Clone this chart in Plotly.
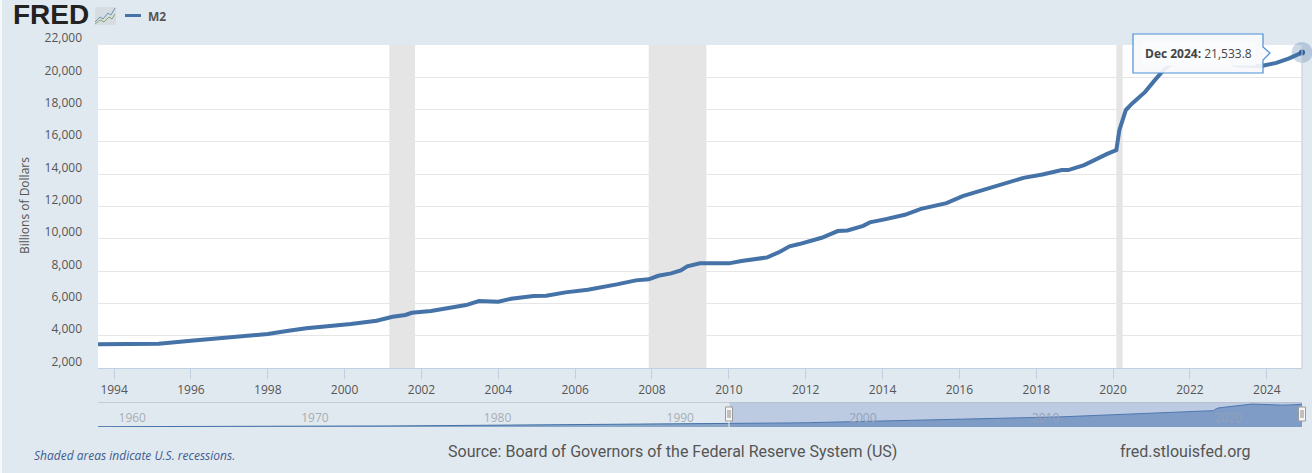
import plotly.graph_objects as go

W, H = 1312, 473

history_dates = ["1959-01", "1962-01", "1965-01", "1968-01", "1970-01", "1972-01", "1975-01", "1978-01",
                 "1980-01", "1983-01", "1985-01", "1988-01", "1990-01", "1992-01"]
history_values = [290, 345, 460, 550, 600, 710, 1000, 1350, 1550, 2100, 2400, 2950, 3200, 3400]

dates = ["1993-08", "1995-03", "1996-01", "1996-11", "1998-01", "1998-07", "1999-01", "2000-03", "2000-11",
         "2001-04", "2001-08", "2001-10", "2002-04", "2003-03", "2003-07", "2004-01", "2004-05", "2004-12",
         "2005-04", "2005-10", "2006-05", "2007-02", "2007-08", "2007-12", "2008-03", "2008-07", "2008-10",
         "2008-12", "2009-04", "2009-10", "2010-01", "2010-05", "2011-01", "2011-05", "2011-07", "2011-08",
         "2011-11", "2012-06", "2012-11", "2013-02", "2013-07", "2013-09", "2014-02", "2014-08", "2015-01",
         "2015-09", "2016-02", "2016-10", "2017-01", "2017-07", "2017-09", "2018-03", "2018-09", "2018-11",
         "2019-04", "2019-11", "2020-02", "2020-03", "2020-05", "2020-07", "2020-11", "2021-02", "2021-05",
         "2021-08", "2021-12", "2022-03", "2022-08", "2022-12", "2023-03", "2023-11", "2024-04", "2024-08",
         "2024-12"]
m2_values = [3484, 3520, 3706, 3855, 4120, 4306, 4473, 4738, 4943, 5190, 5300, 5437, 5542, 5913, 6160, 6118,
             6303, 6470, 6490, 6698, 6860, 7192, 7440, 7502, 7725, 7873, 8058, 8306, 8491, 8491, 8491, 8634,
             8861, 9210, 9400, 9543, 9685, 10075, 10488, 10530, 10815, 11025, 11230, 11495, 11866, 12220,
             12653, 13148, 13312, 13685, 13782, 13994, 14260, 14260, 14570, 15250, 15500, 16735, 17970, 18385,
             19100, 19825, 20486, 20950, 21600, 21720, 21500, 21200, 20750, 20690, 20894, 21170, 21533.8]

recession_starts = ["2001-03-01", "2007-12-01", "2020-02-01"]
recession_ends = ["2001-11-01", "2009-06-01", "2020-04-01"]

y_ticks = [2000, 4000, 6000, 8000, 10000, 12000, 14000, 16000, 18000, 20000, 22000]
x_start, x_end = "1993-08-01", "2024-12-01"
nav_start = "1959-01-01"

LEFT, RIGHT, TOP, BOTTOM = 98, 1302, 45, 368.3
NAV_TOP, NAV_BOTTOM = 402.5, 427
BG = "#e1e9f0"
LINE = "#4572a7"
TXT = "#555555"


def px(v):
    return v / W


def py(v):
    return 1 - v / H


def poly(points, close=False):
    return "M " + " L ".join(f"{px(a):.5f},{py(b):.5f}" for a, b in points) + (" Z" if close else "")


fig = go.Figure()

fig.add_trace(go.Scatter(x=dates, y=m2_values, mode="lines", name="M2", xaxis="x", yaxis="y",
                         line=dict(color=LINE, width=4), showlegend=False, hoverinfo="skip"))
fig.add_trace(go.Scatter(x=dates[-1:], y=m2_values[-1:], mode="markers", xaxis="x", yaxis="y",
                         marker=dict(size=21, color="rgba(69,114,167,0.28)"), cliponaxis=False,
                         showlegend=False, hoverinfo="skip"))
fig.add_trace(go.Scatter(x=dates[-1:], y=m2_values[-1:], mode="markers", xaxis="x", yaxis="y",
                         marker=dict(size=6, color="#2d5f9a"), cliponaxis=False,
                         showlegend=False, hoverinfo="skip"))
fig.add_trace(go.Scatter(x=history_dates + dates, y=history_values + m2_values, mode="lines",
                         xaxis="x2", yaxis="y2", fill="tozeroy", fillcolor="rgba(69,114,167,0.57)",
                         line=dict(color=LINE, width=1), showlegend=False, hoverinfo="skip"))

shapes = []
for s, e in zip(recession_starts, recession_ends):
    shapes.append(dict(type="rect", xref="x", yref="paper", x0=s, x1=e, y0=py(BOTTOM), y1=py(TOP),
                       fillcolor="#e5e5e5", line_width=0, layer="below"))

# navigator background, over the subplot's white plot area
shapes.append(dict(type="rect", xref="x2", yref="paper", x0=nav_start, x1=x_end, y0=py(NAV_BOTTOM), y1=py(NAV_TOP),
                   fillcolor=BG, line_width=0, layer="below"))
# page edge
shapes.append(dict(type="rect", xref="paper", yref="paper", x0=0, x1=px(2), y0=0, y1=1,
                   fillcolor="#f6f8fa", line_width=0, layer="below"))
# crosshair at the hovered point
shapes.append(dict(type="line", xref="paper", yref="paper", x0=px(RIGHT), x1=px(RIGHT), y0=py(BOTTOM), y1=py(TOP),
                   line=dict(color="#c3c9d4", width=1), layer="above"))
# navigator frame and mask
shapes.append(dict(type="line", xref="paper", yref="paper", x0=px(LEFT), x1=px(RIGHT), y0=py(NAV_TOP), y1=py(NAV_TOP),
                   line=dict(color="#c8ccd2", width=1), layer="above"))
shapes.append(dict(type="rect", xref="x2", yref="paper", x0=x_start, x1=x_end, y0=py(NAV_BOTTOM), y1=py(NAV_TOP),
                   fillcolor="rgba(102,133,194,0.3)", line_width=0, layer="above"))
# navigator handles
for hx in (729, 1302):
    shapes.append(dict(type="rect", xref="paper", yref="paper", x0=px(hx - 3.5), x1=px(hx + 3.5),
                       y0=py(421), y1=py(407), fillcolor="#f6f6f6",
                       line=dict(color="#9a9a9a", width=1), layer="above"))
    for d in (-1, 1):
        shapes.append(dict(type="line", xref="paper", yref="paper", x0=px(hx + d), x1=px(hx + d),
                           y0=py(418), y1=py(410), line=dict(color="#8a8a8a", width=1), layer="above"))
shapes.append(dict(type="line", xref="paper", yref="paper", x0=px(729), x1=px(729), y0=py(NAV_BOTTOM), y1=py(421),
                   line=dict(color="#f0f0f0", width=1), layer="above"))
# legend line
shapes.append(dict(type="line", xref="paper", yref="paper", x0=px(125), x1=px(141), y0=py(15.5), y1=py(15.5),
                   line=dict(color=LINE, width=3), layer="above"))
# tooltip box with notch
shapes.append(dict(type="path", xref="paper", yref="paper",
                   path=poly([(1133, 34), (1263, 34), (1263, 47), (1270, 53), (1263, 60), (1263, 73), (1133, 73)], True),
                   fillcolor="rgba(248,249,251,0.92)", line=dict(color="#4a8fd6", width=1.2), layer="above"))
# logo icon
shapes.append(dict(type="rect", xref="paper", yref="paper", x0=px(95), x1=px(116), y0=py(25), y1=py(7),
                   fillcolor="#d5dde2", line_width=0, layer="below"))
shapes.append(dict(type="path", xref="paper", yref="paper",
                   path=poly([(95, 22), (100, 17), (103, 19), (108, 13), (111, 15), (115, 8)]),
                   line=dict(color="#6f94a8", width=1)))
shapes.append(dict(type="path", xref="paper", yref="paper",
                   path=poly([(95, 24), (100, 20), (104, 22), (109, 17), (112, 19), (115, 14)]),
                   line=dict(color="#8aa76b", width=1)))


def note(x, y, text, font, xanchor="center", **kw):
    return dict(xref="paper", yref="paper", x=px(x), y=py(y), text=text, showarrow=False, font=font,
                xanchor=xanchor, yanchor="middle", **kw)


annotations = [
    note(11, 14, "<b>FRED</b>", xanchor="left",
         font=dict(family="Liberation Sans", size=28, color="#222222")),
    note(146, 16, "<b>M2</b>", xanchor="left",
         font=dict(family="Open Sans", size=12, color="#555555")),
    note(24, 206, "Billions of Dollars", textangle=-90,
         font=dict(family="Open Sans", size=12, color="#555555")),
    note(1198, 53, "<b>Dec 2024:</b> 21,533.8", bgcolor="#fafbfc", borderpad=3,
         font=dict(family="Open Sans", size=12, color="#444444")),
    note(32, 455, "<i>Shaded areas indicate U.S. recessions.</i>", xanchor="left",
         font=dict(family="Open Sans", size=12, color="#3f5b8f")),
    note(672, 451, "Source: Board of Governors of the Federal Reserve System (US)",
         font=dict(family="Roboto", size=16, color="#555555")),
    note(1185, 451, "fred.stlouisfed.org",
         font=dict(family="Roboto", size=16, color="#555555")),
]

fig.update_layout(
    width=W, height=H, margin=dict(l=0, r=0, t=0, b=0, autoexpand=False),
    paper_bgcolor=BG, plot_bgcolor="#ffffff", showlegend=False,
    shapes=shapes, annotations=annotations,
    xaxis=dict(domain=[px(LEFT), px(RIGHT)], range=[x_start, x_end], type="date", anchor="y",
               tick0="1994-01-01", dtick="M24", tickformat="%Y", showgrid=False, showline=True,
               linecolor="#c0d0e0", linewidth=1, ticks="outside", ticklen=10, tickcolor="#c0d0e0", tickwidth=1,
               tickfont=dict(family="Open Sans", size=12, color=TXT), zeroline=False),
    yaxis=dict(domain=[py(BOTTOM), py(TOP)], range=[2000, 22000], anchor="x", tickvals=y_ticks,
               tickformat=",d", gridcolor="#e6e6e6", gridwidth=1, showline=False, zeroline=False,
               ticks="", ticklabelstandoff=15, ticklabelshift=-7,
               tickfont=dict(family="Open Sans", size=12, color=TXT)),
    xaxis2=dict(domain=[px(LEFT), px(RIGHT)], range=[nav_start, x_end], type="date", anchor="y2",
                tick0="1960-01-01", dtick="M120", tickformat="%Y", showgrid=False, showline=False,
                ticks="", ticklabelposition="inside", ticklabelshift=16, zeroline=False,
                tickfont=dict(family="Open Sans", size=12, color="#a8adb3")),
    yaxis2=dict(domain=[py(NAV_BOTTOM), py(NAV_TOP)], range=[0, 23200], anchor="x2", visible=False,
                showgrid=False, zeroline=False),
)

fig.write_html("out.html", config=dict(displayModeBar=False),
               post_script=f"document.body.style.margin='0';document.body.style.background='{BG}';")
